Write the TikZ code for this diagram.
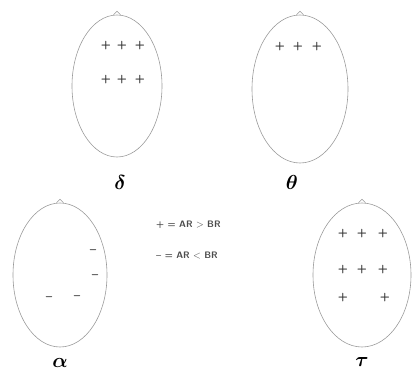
\documentclass[tikz,border=0pt]{standalone}
\usepackage{amsmath,amssymb,bm}
\usetikzlibrary{positioning,shapes.geometric}

\begin{document}
\begin{tikzpicture}[x=0.03cm,y=-0.03cm,
  head/.style={draw=gray!80,ellipse,inner sep=0pt,line width=0.5pt},
  sign/.style={font=\normalsize\sffamily\bfseries,text=black!80,inner sep=0pt},
  band/.style={font=\LARGE,inner sep=0pt},
  legend/.style={font=\footnotesize\sffamily\bfseries,text=black!70,anchor=west,inner sep=0pt}]
\useasboundingbox (0,0) rectangle (415,377);
% four head maps seen from above, nose at the top
\node[head,minimum width=2.7cm,minimum height=4.26cm] (hdelta) at (117,86) {};
\node[head,minimum width=2.88cm,minimum height=4.44cm] (htheta) at (300,89) {};
\node[head,minimum width=2.82cm,minimum height=4.32cm] (halpha) at (60,275) {};
\node[head,minimum width=2.94cm,minimum height=4.32cm] (htau) at (362,275) {};
\foreach \h in {hdelta,htheta,halpha,htau} {
  \draw[gray!80,line width=0.4pt] ([xshift=-3pt]\h.north) -- ([yshift=3pt]\h.north) -- ([xshift=3pt]\h.north);}
% band labels
\node[band] (ldelta) at (120,182) {$\bm{\delta}$};
\node[band] (ltheta) at (292,182) {$\bm{\theta}$};
\node[band] (lalpha) at (60,363) {$\bm{\alpha}$};
\node[band] (ltau) at (362,362) {$\bm{\tau}$};
% signs
\foreach \xx [count=\i] in {106,122,140} {
  \node[sign] (d1-\i) at (\xx,46) {+};
  \node[sign] (d2-\i) at (\xx,80) {+};}
\foreach \xx [count=\i] in {280,298,317} {\node[sign] (t0-\i) at (\xx,47) {+};}
\foreach \xx [count=\i] in {343,362,383} {
  \node[sign] (u1-\i) at (\xx,234) {+};
  \node[sign] (u2-\i) at (\xx,270) {+};}
\node[sign] (u3-1) at (343,298) {+};
\node[sign] (u3-2) at (385,298) {+};
\foreach \xx/\yy [count=\i] in {93/252,95/277,49/299,77/298} {
  \node[sign] (a-\i) at (\xx,\yy) {--};}
% legend
\node[legend] (kplus) at (156,225) {+ = AR $>$ BR};
\node[legend] (kminus) at (156,256) {-- = AR $<$ BR};
\end{tikzpicture}
\end{document}
